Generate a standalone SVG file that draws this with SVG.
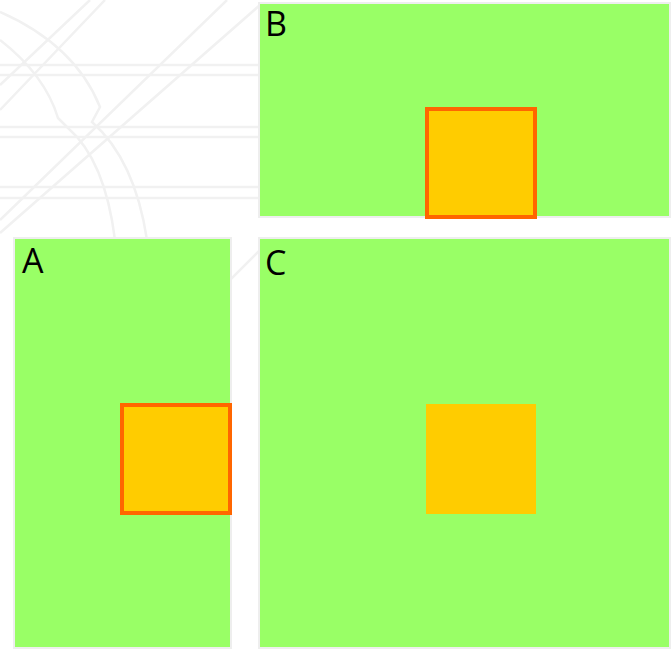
<svg xmlns="http://www.w3.org/2000/svg" width="672" height="649" viewBox="0 0 672 649">
<style>
.bg{fill:none;stroke:#f1f1f1;stroke-width:2.5}
.panel{fill:#99ff66;stroke:#eeeeee;stroke-width:2}
.sq{fill:#ffcc00}
.sel{stroke:#ff6600;stroke-width:4}
.lbl{font-family:"Open Sans","Liberation Sans",sans-serif;font-size:34px;fill:#000}
</style>
<rect width="672" height="649" fill="#ffffff"/>
<g id="background">
<path class="bg" d="M0 65H260M0 75H260M0 127H260M0 137H260M0 187H260M0 198H260"/>
<path class="bg" d="M0 110L105 0M0 85L90 0M0 220L227 0M0 233L260 5M90 420L260 250"/>
<path class="bg" d="M0 12Q75 45 100 107L92 122Q135 160 147 240"/>
<path class="bg" d="M0 40Q45 75 58 118L68 128Q105 160 115 240"/>
</g>
<g id="B">
<rect class="panel" x="259" y="3" width="411" height="214"/>
<rect class="sq sel" x="427" y="109" width="108" height="108"/>
<text class="lbl" x="265" y="36">B</text>
</g>
<g id="A">
<rect class="panel" x="14" y="238" width="217" height="410"/>
<rect class="sq sel" x="122" y="405" width="108" height="108"/>
<text class="lbl" x="22" y="273">A</text>
</g>
<g id="C">
<rect class="panel" x="259" y="238" width="411" height="410"/>
<rect class="sq" x="426" y="404" width="110" height="110"/>
<text class="lbl" x="265" y="275">C</text>
</g>
<g id="connectors"></g>
</svg>
